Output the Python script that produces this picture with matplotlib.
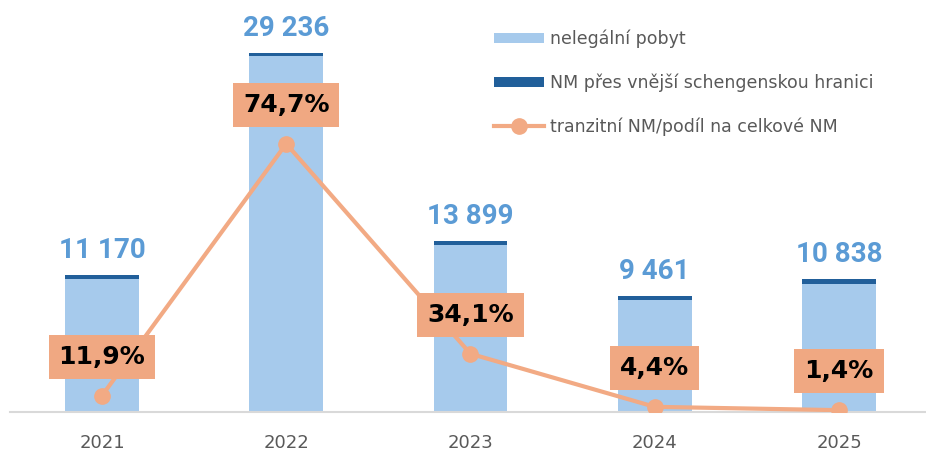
import numpy as np
import matplotlib
matplotlib.use("Agg")
import matplotlib.pyplot as plt

years = ["2021", "2022", "2023", "2024", "2025"]
totals = [11170, 29236, 13899, 9461, 10838]
border = [300, 250, 300, 300, 400]          # NM přes vnější schengenskou hranici
illegal = [t - b for t, b in zip(totals, border)]  # nelegální pobyt
transit = [1330, 21840, 4740, 420, 150]     # tranzitní NM (count, line position)
pct_labels = ["11,9%", "74,7%", "34,1%", "4,4%", "1,4%"]

c_light = "#A6CAEC"
c_dark = "#215F9A"
c_line = "#F2AA84"
c_box = "#F0A882"
c_num = "#5B9BD5"
c_text = "#595959"

fig = plt.figure(figsize=(9.26, 4.54), dpi=100)
ax = fig.add_axes([10 / 926, 42 / 454, 916 / 926, 412 / 454])

x = np.arange(len(years))
w = 0.4
b1 = ax.bar(x, illegal, w, color=c_light, label="nelegální pobyt", zorder=2)
b2 = ax.bar(x, border, w, bottom=illegal, color=c_dark,
            label="NM přes vnější schengenskou hranici", zorder=2)
l1, = ax.plot(x, transit, color=c_line, lw=3, marker="o", ms=11,
              label="tranzitní NM/podíl na celkové NM", zorder=3)

for xi, t in zip(x, totals):
    ax.annotate(f"{t:,}".replace(",", " "), (xi, t), xytext=(0, 8),
                textcoords="offset points", ha="center", va="bottom",
                fontsize=20, fontweight="bold", color=c_num, family="Roboto")

for xi, v, lab in zip(x, transit, pct_labels):
    ax.annotate(lab, (xi, v), xytext=(0, 28), textcoords="offset points",
                ha="center", va="center", fontsize=18, fontweight="bold",
                color="black", zorder=5,
                bbox=dict(boxstyle="square,pad=0.4", fc=c_box, ec="none"))

ax.set_xlim(-0.499, 4.472)
ax.set_ylim(0, 33550)
ax.set_xticks(x)
ax.set_xticklabels(years, fontsize=13, color=c_text)
ax.tick_params(axis="x", length=0, pad=16)
ax.set_yticks([])
for s in ["top", "right", "left"]:
    ax.spines[s].set_visible(False)
ax.spines["bottom"].set_color("#D9D9D9")
ax.spines["bottom"].set_linewidth(1.5)

fig.legend([b1, b2, l1],
           ["nelegální pobyt", "NM přes vnější schengenskou hranici",
            "tranzitní NM/podíl na celkové NM"],
           loc="upper left", bbox_to_anchor=(494 / 926, 1 - 30 / 454),
           frameon=False, fontsize=12.5, labelcolor=c_text,
           handlelength=2.9, handleheight=0.5, handletextpad=0.35,
           labelspacing=1.45, borderpad=0, borderaxespad=0)

fig.savefig("out.png", dpi=100)
